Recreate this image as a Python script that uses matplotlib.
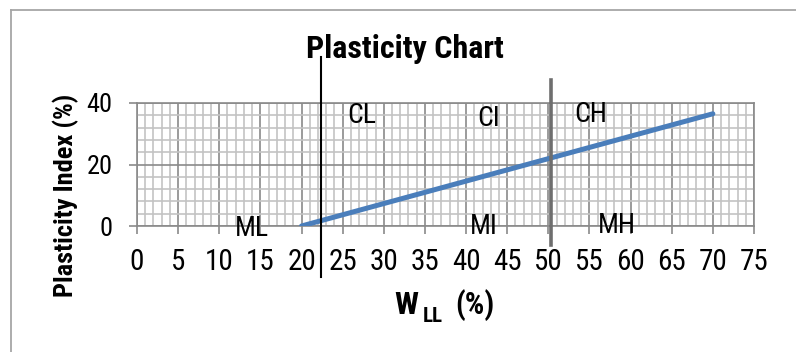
import matplotlib
matplotlib.use("Agg")
import matplotlib.pyplot as plt
from matplotlib.lines import Line2D
from matplotlib.ticker import MultipleLocator

# A-line of the plasticity chart: PI = 0.73 (LL - 20)
liquid_limit = [20, 70]
plasticity_index = [0, 36.5]

x_ticks = [0, 5, 10, 15, 20, 25, 30, 35, 40, 45, 50, 55, 60, 65, 70, 75]
y_ticks = [0, 20, 40]

# Boundaries between low / intermediate / high plasticity
low_boundary = 22.4
high_boundary = 50.3

# Soil group labels: (text, liquid limit, plasticity index)
zones = [
    ("CL", 27.3, 35.9),
    ("CI", 42.7, 35.1),
    ("CH", 55.2, 36.1),
    ("ML", 14.0, -0.8),
    ("MI", 42.2, -0.3),
    ("MH", 58.3, 0.15),
]

W, H = 796, 352
FONT = ["Roboto Condensed", "PT Sans Narrow", "Liberation Sans", "DejaVu Sans"]
plt.rcParams["font.family"] = FONT


def px(x, y):
    return x / W, 1 - y / H


fig = plt.figure(figsize=(W / 100, H / 100), dpi=100)
fig.patch.set_facecolor("white")

# chart frame (left and top edges visible)
frame_kw = dict(color="#a6a6a6", lw=1.3, transform=fig.transFigure)
fig.add_artist(Line2D([11 / W, 11 / W], [0, 1 - 10 / H], **frame_kw))
fig.add_artist(Line2D([11 / W, 1], [1 - 10 / H, 1 - 10 / H], **frame_kw))

left, right = 137 / W, 754 / W
bottom, top = 1 - 226 / H, 1 - 103 / H
ax = fig.add_axes([left, bottom, right - left, top - bottom])

ax.set_xlim(0, 75)
ax.set_ylim(0, 40)
ax.set_xticks(x_ticks)
ax.set_yticks(y_ticks)
ax.xaxis.set_minor_locator(MultipleLocator(1))
ax.yaxis.set_minor_locator(MultipleLocator(4))

ax.grid(which="minor", color="#c3c3c3", lw=1.2)
ax.grid(which="major", color="#8a8a8a", lw=1.2)
ax.set_axisbelow(True)

for s in ax.spines.values():
    s.set_color("#8a8a8a")
    s.set_linewidth(1.2)

ax.tick_params(which="major", direction="out", length=5.5, width=1.2,
               color="#8a8a8a")
ax.tick_params(which="minor", length=0)
ax.tick_params(axis="x", labelsize=21, pad=10)
ax.tick_params(axis="y", labelsize=19, pad=12)

# A-line
ax.plot(liquid_limit, plasticity_index, color="#4a7ebb", lw=3.6,
        solid_capstyle="round", zorder=4)

# boundary lines extending past the plot area
ax.plot([low_boundary, low_boundary], [-16.6, 55], color="black", lw=1.5,
        clip_on=False, zorder=5)
ax.plot([high_boundary, high_boundary], [-6.2, 47.5], color="#6e6e6e", lw=2.6,
        clip_on=False, zorder=5)

for name, xv, yv in zones:
    ax.text(xv, yv, name, fontsize=20, ha="center", va="center",
            color="black", zorder=6, clip_on=False)

# title
fig.text(*px(405, 58), "Plasticity Chart", fontsize=23, fontweight="bold",
         ha="center", va="baseline")

# y axis title
fig.text(*px(66, 195), "Plasticity Index (%)", fontsize=19, fontweight="bold",
         rotation=90, ha="center", va="center")

# x axis title: W with LL subscript
fig.text(*px(394, 314), "W", fontsize=23, fontweight="bold",
         ha="left", va="baseline")
fig.text(*px(423, 322), "LL", fontsize=15, fontweight="bold",
         ha="left", va="baseline")
fig.text(*px(455, 314), "(%)", fontsize=22, fontweight="bold",
         ha="left", va="baseline")

fig.savefig("out.png", dpi=100)
